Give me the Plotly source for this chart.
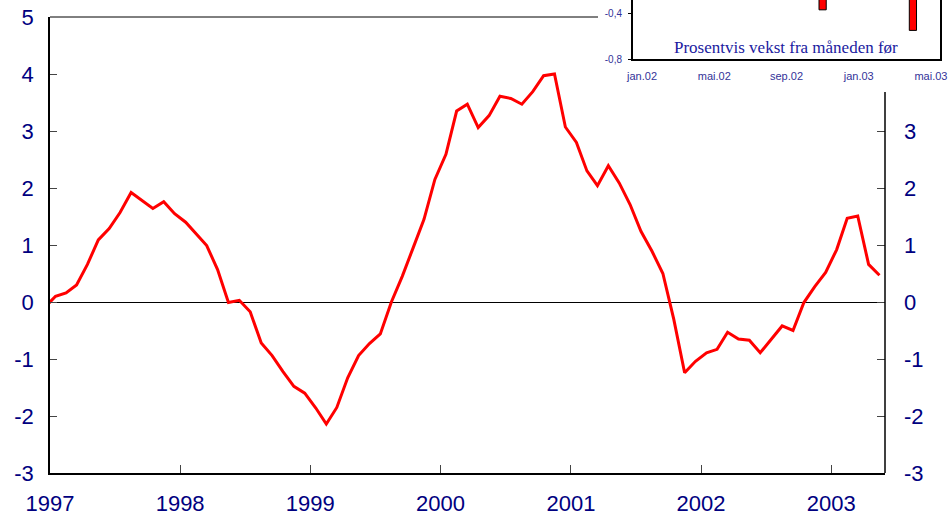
import plotly.graph_objects as go

# ---- Main series: 12-month growth, monthly (Dec 1996 point is clipped at the left edge)
months = (["1996-12"] +
          [f"{y}-{m:02d}" for y in range(1997, 2003) for m in range(1, 13)] +
          [f"2003-{m:02d}" for m in range(1, 6)])
values = [
    -0.10,
    0.10, 0.16, 0.30, 0.66, 1.09, 1.29, 1.57, 1.92, 1.78, 1.64, 1.76, 1.55,
    1.40, 1.19, 0.99, 0.57, -0.01, 0.03, -0.17, -0.72, -0.94, -1.22, -1.48, -1.60,
    -1.86, -2.14, -1.85, -1.33, -0.94, -0.73, -0.56, 0.00, 0.45, 0.95, 1.45, 2.15,
    2.59, 3.35, 3.47, 3.06, 3.27, 3.61, 3.57, 3.47, 3.69, 3.97, 4.00, 3.07,
    2.80, 2.30, 2.04, 2.39, 2.09, 1.71, 1.24, 0.89, 0.50, -0.30, -1.24, -1.04,
    -0.89, -0.83, -0.53, -0.65, -0.67, -0.89, -0.65, -0.42, -0.50, -0.01, 0.27, 0.52,
    0.92, 1.47, 1.51, 0.66, 0.47,
]
year_ticks = ["1997-01-01", "1998-01-01", "1999-01-01", "2000-01-01",
              "2001-01-01", "2002-01-01", "2003-01-01"]
year_labels = ["1997", "1998", "1999", "2000", "2001", "2002", "2003"]
left_ticks = [-3, -2, -1, 0, 1, 2, 3, 4, 5]
right_ticks = [-3, -2, -1, 0, 1, 2, 3]

# ---- Inset: monthly change (only the bars visible below the cropped top are known)
inset_months = ["jan.02", "feb.02", "mar.02", "apr.02", "mai.02", "jun.02", "jul.02",
                "aug.02", "sep.02", "okt.02", "nov.02", "des.02", "jan.03", "feb.03",
                "mar.03", "apr.03", "mai.03"]
inset_values = [None, None, None, None, None, None, None, None, None, None,
                -0.37, None, None, None, None, -0.55, None]
inset_label_idx = [0, 4, 8, 12, 16]
inset_yticks = [-0.8, -0.4]
inset_ylabels = ["-0,8", "-0,4"]
inset_title = "Prosentvis vekst fra måneden før"

W, H = 952, 518
def px(x): return x / W
def py(y): return 1 - y / H

NAVY = "#000080"
TICKFONT = dict(family="Liberation Sans, Arial, sans-serif", size=22, color=NAVY)

fig = go.Figure()
fig.add_trace(go.Scatter(
    x=months, y=values, mode="lines", xperiod="M1", xperiodalignment="middle",
    line=dict(color="#ff0000", width=3), showlegend=False, xaxis="x", yaxis="y"))
fig.add_trace(go.Scatter(
    x=months, y=values, mode="lines", xperiod="M1", xperiodalignment="middle",
    line=dict(width=0), opacity=0, showlegend=False, hoverinfo="skip",
    xaxis="x", yaxis="y2"))
fig.add_trace(go.Bar(
    x=list(range(len(inset_months))), y=inset_values, width=0.4,
    marker=dict(color="#ff0000", line=dict(color="black", width=1)),
    showlegend=False, xaxis="x3", yaxis="y3"))

fig.update_layout(
    width=W, height=H, margin=dict(l=0, r=0, t=0, b=0, autoexpand=False),
    paper_bgcolor="white", plot_bgcolor="white",
    xaxis=dict(domain=[px(50), px(885)], type="date", automargin=False,
               range=["1997-01-01", "2003-06-01"],
               tickvals=year_ticks, ticktext=year_labels,
               ticks="inside", ticklen=8, tickcolor="#444", tickwidth=1,
               showline=True, linecolor="black", linewidth=1.5,
               showgrid=False, zeroline=False, tickfont=TICKFONT,
               ticklabelstandoff=10, anchor="y"),
    yaxis=dict(domain=[py(473), py(17)], range=[-3, 5], automargin=False,
               tickvals=left_ticks, ticktext=[str(v) for v in left_ticks],
               ticks="inside", ticklen=7, tickcolor="#444", tickwidth=1,
               showline=True, linecolor="black", linewidth=1.5,
               showgrid=False, zeroline=True, zerolinecolor="black", zerolinewidth=1,
               tickfont=TICKFONT, ticklabelstandoff=10, anchor="x"),
    yaxis2=dict(overlaying="y", side="right", anchor="x", range=[-3, 5],
                automargin=False,
                tickvals=right_ticks, ticktext=[str(v) for v in right_ticks],
                ticks="inside", ticklen=8, tickcolor="#444", tickwidth=1,
                showline=False, showgrid=False, zeroline=False,
                tickfont=TICKFONT, ticklabelstandoff=18),
    xaxis3=dict(domain=[px(633), px(940)], range=[-0.5, len(inset_months) - 0.5],
                automargin=False,
                tickvals=inset_label_idx,
                ticktext=[inset_months[i] for i in inset_label_idx],
                ticks="", showline=True, linecolor="black", linewidth=2,
                showgrid=False, zeroline=False, anchor="y3",
                tickfont=dict(family="Liberation Sans, Arial, sans-serif", size=11,
                              color="#333399"), ticklabelstandoff=6),
    yaxis3=dict(domain=[py(59), 1], range=[-0.8, -0.284], automargin=False,
                tickvals=inset_yticks, ticktext=inset_ylabels,
                ticks="outside", ticklen=3, tickcolor="black",
                showline=True, mirror=True, linecolor="black", linewidth=2,
                showgrid=False, zeroline=False, anchor="x3",
                tickfont=dict(family="Liberation Sans, Arial, sans-serif", size=10,
                              color="#333399"), ticklabelstandoff=4),
    shapes=[
        dict(type="line", xref="paper", yref="paper",
             x0=px(50), x1=px(598), y0=py(17), y1=py(17),
             line=dict(color="black", width=1)),
        dict(type="line", xref="paper", yref="paper",
             x0=px(885), x1=px(885), y0=py(473), y1=py(92),
             line=dict(color="black", width=1.5)),
    ],
    annotations=[
        dict(text=inset_title, xref="paper", yref="paper",
             x=px(786), y=py(47), showarrow=False, xanchor="center", yanchor="middle",
             font=dict(family="Liberation Serif, Times New Roman, serif", size=17,
                       color="#1a1aa0")),
    ],
)

fig.write_html("out.html",
               config={"displayModeBar": False},
               post_script="document.body.style.margin='0';"
                           "document.body.style.overflow='hidden';")
